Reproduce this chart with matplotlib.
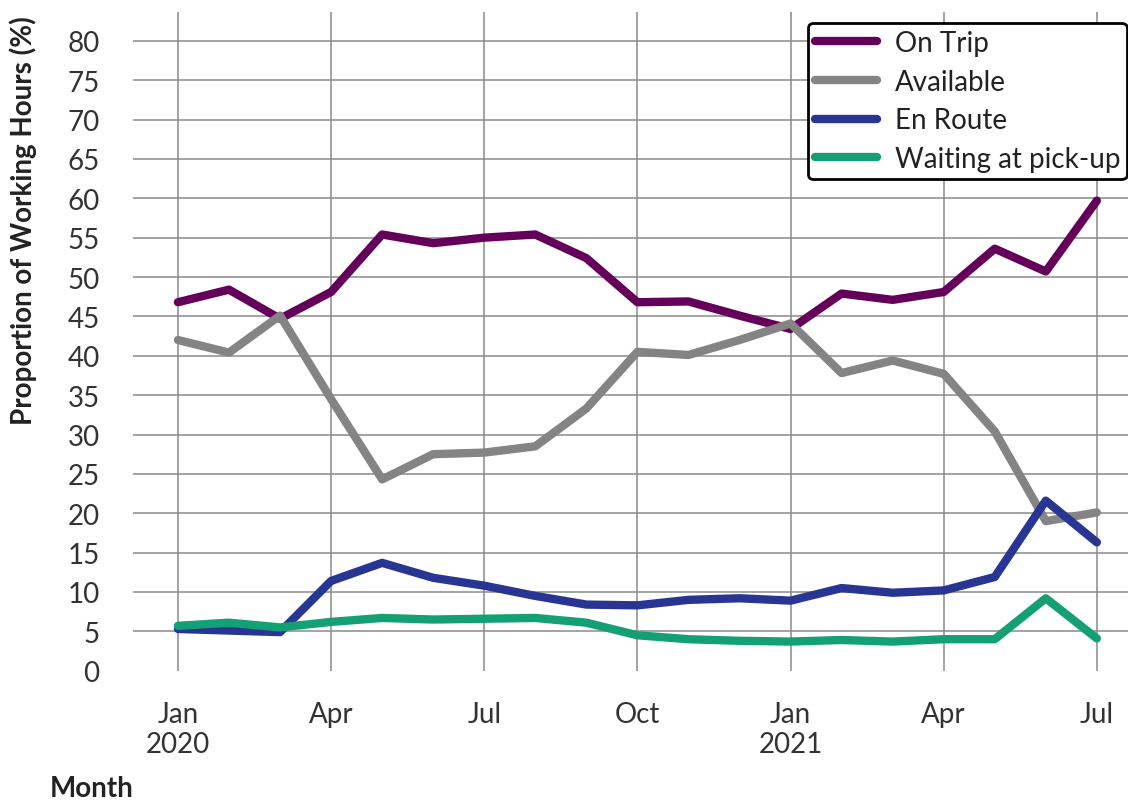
import numpy as np
import matplotlib.pyplot as plt

plt.rcParams['font.family'] = ['Lato', 'DejaVu Sans']

months = np.arange(19)  # Jan 2020 .. Jul 2021
on_trip = [46.8, 48.4, 44.7, 48.1, 55.4, 54.3, 55.0, 55.4, 52.4, 46.8, 46.9, 45.1,
           43.4, 47.9, 47.1, 48.1, 53.6, 50.7, 59.7]
available = [42.0, 40.4, 45.1, 34.5, 24.3, 27.5, 27.7, 28.5, 33.3, 40.5, 40.1, 42.0,
             44.1, 37.8, 39.4, 37.7, 30.4, 19.0, 20.1]
en_route = [5.3, 5.1, 4.9, 11.4, 13.7, 11.8, 10.8, 9.5, 8.4, 8.3, 9.0, 9.2,
            8.9, 10.5, 9.9, 10.2, 11.9, 21.6, 16.3]
waiting = [5.7, 6.1, 5.5, 6.2, 6.7, 6.5, 6.6, 6.7, 6.1, 4.5, 4.0, 3.8,
           3.7, 3.9, 3.7, 4.0, 4.0, 9.2, 4.1]

series = [("On Trip", on_trip, "#65005a"),
          ("Available", available, "#848484"),
          ("En Route", en_route, "#283593"),
          ("Waiting at pick-up", waiting, "#12a074")]

tick_pos = [0, 3, 6, 9, 12, 15, 18]
tick_labels = ["Jan\n2020", "Apr", "Jul", "Oct", "Jan\n2021", "Apr", "Jul"]

fig = plt.figure(figsize=(11.28, 8.03), dpi=100)
ax = fig.add_axes([0.1179, 0.1635, 0.8821, 0.8207])

for name, vals, col in series:
    ax.plot(months, vals, color=col, lw=6, label=name, solid_capstyle='round', zorder=3)

ax.set_xlim(-0.88, 18.61)
ax.set_ylim(0, 83.7)
ax.set_yticks(np.arange(0, 81, 5))
ax.set_xticks(tick_pos)
ax.set_xticklabels(tick_labels)

ax.grid(True, color='#8a8a8a', lw=1.1)
ax.yaxis.get_gridlines()[0].set_visible(False)
for s in ax.spines.values():
    s.set_visible(False)

ax.tick_params(axis='both', length=0, labelsize=20, colors='#333333')
ax.tick_params(axis='y', pad=24)
ax.tick_params(axis='x', pad=22)

fig.text(23 / 1128, 1 - 221 / 803, "Proportion of Working Hours (%)", rotation=90,
         ha='center', va='center', fontsize=20, fontweight='bold', color='#222222')
fig.text(50 / 1128, 0.008, "Month", fontsize=20, fontweight='bold', color='#222222',
         va='baseline')

leg = ax.legend(loc='upper right', bbox_to_anchor=(0.999, 0.983), fontsize=20,
                handlelength=2.23, handletextpad=0.65, labelspacing=0.46,
                borderpad=0.25, borderaxespad=0, frameon=True, fancybox=True,
                framealpha=1)
leg.get_frame().set_edgecolor('black')
leg.get_frame().set_linewidth(2)
for t in leg.get_texts():
    t.set_color('#222222')

fig.savefig("out.png", dpi=100)
